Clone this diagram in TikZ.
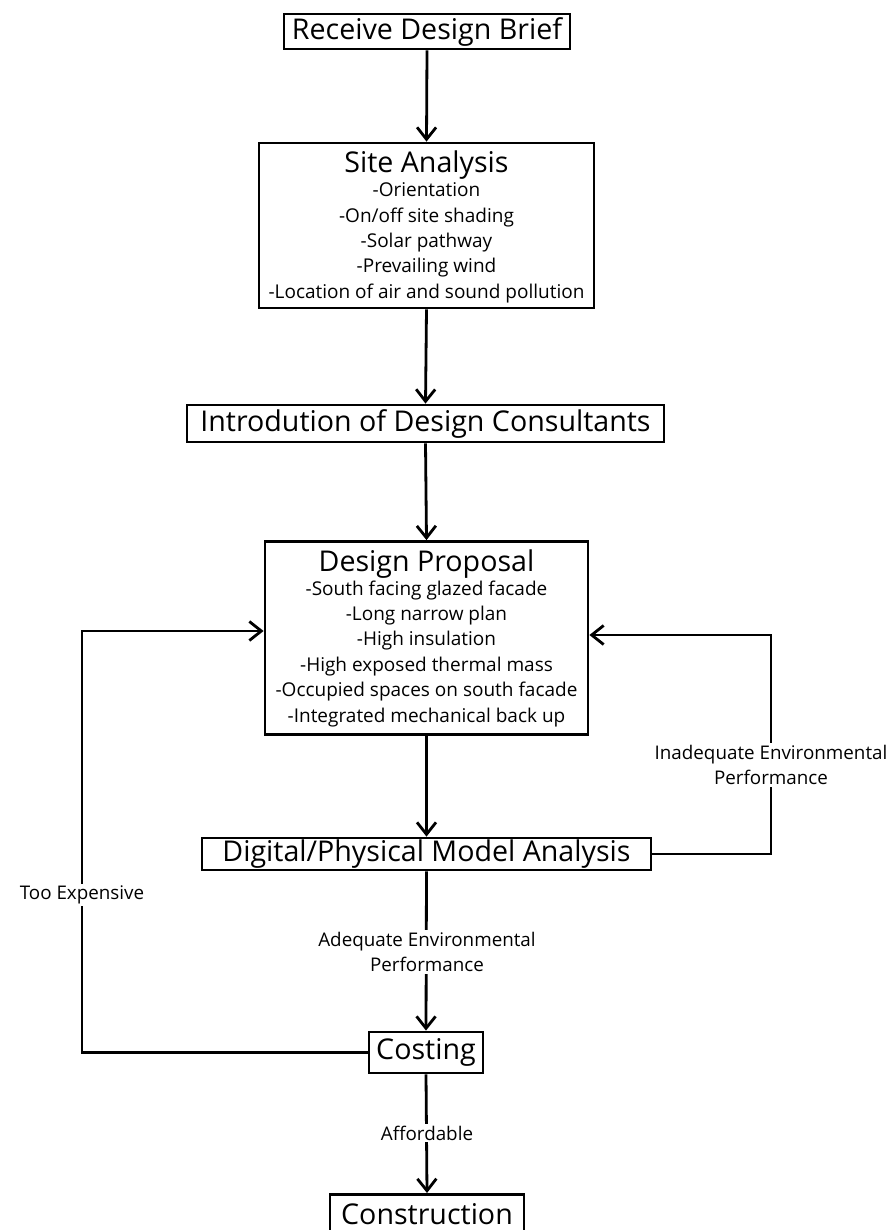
\documentclass[tikz,border=0pt]{standalone}
\usepackage{fontspec}
\setmainfont{Open Sans}
\usetikzlibrary{arrows.meta}
\begin{document}
\begin{tikzpicture}[x=1pt,y=-1pt,
  line width=2.8pt,
  box/.style={draw, line width=2.8pt, inner sep=0pt, align=center,
    font=\fontsize{28.6}{30}\selectfont},
  listbox/.style={box, font=\fontsize{19}{25.4}\selectfont},
  lbl/.style={fill=white, inner sep=2pt, align=center,
    font=\fontsize{18.8}{25}\selectfont},
  flow/.style={-{Straight Barb[length=12pt,width=19pt]}, line width=2.8pt}]
\useasboundingbox (0,0) rectangle (893,1230);

% boxes of the process
\node[box, minimum width=286pt, minimum height=35pt] (brief) at (427,31.5) {Receive Design Brief};
\node[listbox, minimum width=335pt, minimum height=165pt] (site) at (426.5,225.5)
  {\raisebox{-2.5pt}[\height][\depth]{\fontsize{28.6}{28}\selectfont Site Analysis}\\[1.5pt]
   -Orientation\\ -On/off site shading\\ -Solar pathway\\ -Prevailing wind\\
   -Location of air and sound pollution};
\node[box, minimum width=477pt, minimum height=37pt] (intro) at (425.5,423.5) {Introdution of Design Consultants};
\node[listbox, minimum width=323pt, minimum height=193pt] (design) at (426.5,638)
  {\raisebox{-1.5pt}{\fontsize{28.6}{28}\selectfont Design Proposal}\\[0pt]
   -South facing glazed facade\\ -Long narrow plan\\ -High insulation\\
   -High exposed thermal mass\\ -Occupied spaces on south facade\\
   -Integrated mechanical back up};
\node[box, minimum width=449pt, minimum height=32pt] (digital) at (426.5,854) {Digital/Physical Model Analysis};
\node[box, minimum width=114pt, minimum height=41pt] (costing) at (426,1052.5) {Costing};
% the last box runs on past the lower edge of the page
\node[box, minimum width=194pt, minimum height=40pt, text depth=0pt, anchor=north] (constr) at (427,1193) {Construction};

% corners of the two feedback loops
\coordinate (tl) at (82,631);
\coordinate (tr) at (771,635);

% main sequence
\draw[flow] (brief.south) -- (site.north);
\draw[flow] (site.south) -- (intro.north);
\draw[flow] (intro.south) -- (design.north);
\draw[flow] (design.south) -- (digital.north);
\draw[flow] (digital.south) -- (costing.north);
\draw[flow] (costing.south) -- (constr.north);

% feedback loops
\draw[flow] (costing.west) -- (costing.west -| tl) -- (tl) -- (tl -| design.west);
\draw[flow] (digital.east) -- (digital.east -| tr) -- (tr) -- (tr -| design.east);

% labels on the connectors
\node[lbl] (ladeq) at (427,952) {Adequate Environmental\\Performance};
\node[lbl] (laff) at (427,1133) {Affordable};
\node[lbl] (lexp) at (82,895) {Too Expensive};
\node[lbl] (linad) at (771,765) {Inadequate Environmental\\Performance};
\end{tikzpicture}
\end{document}
